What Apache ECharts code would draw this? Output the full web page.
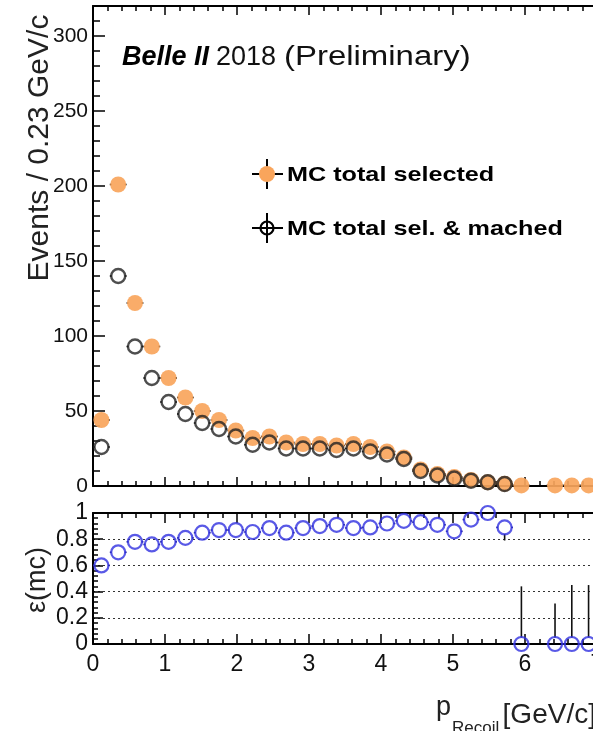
<!DOCTYPE html>
<html><head><meta charset="utf-8">
<script src="https://cdn.jsdelivr.net/npm/echarts@6/dist/echarts.min.js"></script>
<style>html,body{margin:0;padding:0;background:#fff}#c{width:593px;height:731px}</style>
</head><body><div id="c"></div>
<script>
// ---- data ----
const binCenters = [0.117,0.350,0.583,0.817,1.050,1.283,1.517,1.750,1.983,2.217,2.450,2.683,2.917,3.150,3.383,3.617,3.850,4.083,4.317,4.550,4.783,5.017,5.250,5.483,5.717,5.950,6.183,6.417,6.650,6.883];
const binHalfWidth = 0.1167;
const selected = [44,201,122,93,72,59,50,44,37,32,33,29,28,28,27,28,26,23,19,11,8,6,4,2.5,1.5,0.4,null,0.4,0.4,0.4];
const matched  = [26,140,93,72,56,48,42,38,33,27.5,29,25,25,25,24,25,23,21,18,10,7,5,3.5,2.5,1.3,null,null,null,null,null];
const efficiency = [0.60,0.70,0.78,0.76,0.78,0.81,0.85,0.87,0.87,0.855,0.885,0.85,0.885,0.90,0.91,0.885,0.89,0.92,0.94,0.93,0.91,0.86,0.95,1.0,0.89,0,null,0,0,0];
const effErrUp   = [0.03,0.03,0.03,0.03,0.03,0.03,0.03,0.03,0.03,0.03,0.03,0.03,0.03,0.03,0.03,0.03,0.03,0.03,0.03,0.03,0.03,0.03,0.03,0.01,0.05,0.44,null,0.31,0.45,0.45];
const effErrDown = [0.03,0.03,0.03,0.03,0.03,0.03,0.03,0.03,0.03,0.03,0.03,0.03,0.03,0.03,0.03,0.03,0.03,0.03,0.03,0.03,0.03,0.03,0.03,0.03,0.10,0,null,0,0,0];
const xTickLabels = ['0','1','2','3','4','5','6','7'];

const FONT = "'Liberation Sans', Arial, Helvetica, sans-serif";
const ORANGE = '#f9a55c';
const BLUE = '#2f2fe0';

function pts(vals){ return binCenters.map((c,i)=> vals[i]==null ? null : [c, vals[i]]).filter(p=>p); }
function hbars(vals){ return binCenters.map((c,i)=> vals[i]==null ? null : [c, vals[i], binHalfWidth]).filter(p=>p); }
function vbars(){ return binCenters.map((c,i)=> efficiency[i]==null ? null : [c, efficiency[i], effErrDown[i], effErrUp[i]]).filter(p=>p); }

function hbarRender(r, color, lw){
  return function(params, api){
    const c = api.value(0), v = api.value(1), w = api.value(2);
    const pl = api.coord([c - w, v]), pr = api.coord([c + w, v]), pc = api.coord([c, v]);
    const children = [];
    if (pc[0] - pl[0] > r) children.push({type:'line', shape:{x1:pl[0],y1:pc[1],x2:pc[0]-r,y2:pc[1]}, style:{stroke:color,lineWidth:lw}});
    if (pr[0] - pc[0] > r) children.push({type:'line', shape:{x1:pc[0]+r,y1:pc[1],x2:pr[0],y2:pc[1]}, style:{stroke:color,lineWidth:lw}});
    return {type:'group', children};
  };
}
function vbarRender(r){
  return function(params, api){
    const c = api.value(0), v = api.value(1), dn = api.value(2), up = api.value(3);
    const pc = api.coord([c, v]), pt = api.coord([c, v + up]), pb = api.coord([c, Math.max(0, v - dn)]);
    const children = [];
    if (pc[1] - pt[1] > r) children.push({type:'line', shape:{x1:pc[0],y1:pt[1],x2:pc[0],y2:pc[1]-r}, style:{stroke:'#111',lineWidth:1.6}});
    if (pb[1] - pc[1] > r) children.push({type:'line', shape:{x1:pc[0],y1:pc[1]+r,x2:pc[0],y2:pb[1]}, style:{stroke:'#111',lineWidth:1.6}});
    return {type:'group', children};
  };
}

const axisLineStyle = {show:true, onZero:false, lineStyle:{color:'#000', width:2}};
function xAxisDef(gridIndex, position, showLabels, major, minor){
  return {
    type:'value', gridIndex, position, min:0, max:7, interval:1,
    axisLine: axisLineStyle,
    axisTick:{show:true, inside:true, length:major, lineStyle:{color:'#000', width:1.5}},
    minorTick:{show:true, splitNumber:5, length:minor, lineStyle:{color:'#000', width:1.5}},
    splitLine:{show:false},
    axisLabel:{show:showLabels, color:'#111', fontFamily:FONT, fontSize:23, margin:9,
      formatter: v => xTickLabels[Math.round(v)] }
  };
}

const option = {
  animation:false,
  backgroundColor:'#fff',
  grid:[
    {left:93, top:6, width:504, height:480, containLabel:false, outerBoundsMode:'none'},
    {left:93, top:513, width:504, height:131, containLabel:false, outerBoundsMode:'none'}
  ],
  xAxis:[
    xAxisDef(0,'bottom',false,9,5),
    xAxisDef(0,'top',false,9,5),
    xAxisDef(1,'bottom',true,10,5),
    xAxisDef(1,'top',false,10,5)
  ],
  yAxis:[
    { type:'value', gridIndex:0, position:'left', min:0, max:320, interval:50,
      axisLine: axisLineStyle,
      axisTick:{show:true, inside:true, length:12, lineStyle:{color:'#000', width:1.5}},
      minorTick:{show:true, splitNumber:5, length:7, lineStyle:{color:'#000', width:1.5}},
      splitLine:{show:false},
      axisLabel:{color:'#111', fontFamily:FONT, fontSize:21, margin:5, formatter: v => (v % 50 === 0 ? String(v) : '')}
    },
    { type:'value', gridIndex:1, position:'left', min:0, max:1, interval:0.2,
      axisLine: axisLineStyle,
      axisTick:{show:true, inside:true, length:10, lineStyle:{color:'#000', width:1.5}},
      minorTick:{show:true, splitNumber:5, length:5, lineStyle:{color:'#000', width:1.5}},
      splitLine:{show:true, lineStyle:{color:'#333', width:1.2, type:[2,3]}},
      axisLabel:{color:'#111', fontFamily:FONT, fontSize:23, margin:5,
        formatter: v => { if (Math.abs(v) < 1e-9) return '0'; if (Math.abs(v-1) < 1e-9) return '1'; return v.toFixed(1); } }
    }
  ],
  series:[
    { type:'custom', xAxisIndex:0, yAxisIndex:0, data:hbars(selected), renderItem:hbarRender(6.5,'#111',1.6), z:1, clip:false },
    { type:'custom', xAxisIndex:0, yAxisIndex:0, data:hbars(matched), renderItem:hbarRender(6.5,'#111',1.6), z:1, clip:false },
    { type:'scatter', xAxisIndex:0, yAxisIndex:0, data:pts(selected), symbol:'circle', symbolSize:16,
      itemStyle:{color:ORANGE, opacity:0.92}, z:2, clip:false },
    { type:'scatter', xAxisIndex:0, yAxisIndex:0, data:pts(matched), symbol:'circle', symbolSize:14,
      itemStyle:{color:'rgba(0,0,0,0)', borderColor:'#222', borderWidth:2.4}, z:3, clip:false },
    { type:'custom', xAxisIndex:2, yAxisIndex:1, data:hbars(efficiency), renderItem:hbarRender(6.5,'#2a2a90',1.6), z:1, clip:false },
    { type:'custom', xAxisIndex:2, yAxisIndex:1, data:vbars(), renderItem:vbarRender(6.5), z:1, clip:false },
    { type:'scatter', xAxisIndex:2, yAxisIndex:1, data:pts(efficiency), symbol:'circle', symbolSize:14,
      itemStyle:{color:'rgba(0,0,0,0)', borderColor:BLUE, borderWidth:2.2}, z:3, clip:false }
  ],
  graphic:[
    { type:'text', x:122, y:58, z:10,
      style:{ text:'Belle II', fontFamily:FONT, fontSize:27, fontWeight:'bold', fontStyle:'italic', fill:'#000', verticalAlign:'middle' } },
    { type:'text', x:216, y:58, z:10,
      style:{ text:'2018', fontFamily:FONT, fontSize:27, fill:'#111', verticalAlign:'middle' } },
    { type:'text', x:284, y:58, scaleX:1.22, z:10,
      style:{ text:'(Preliminary)', fontFamily:FONT, fontSize:27, fill:'#111', verticalAlign:'middle' } },
    // legend entry 1
    { type:'line', shape:{x1:252,y1:174,x2:283,y2:174}, style:{stroke:'#000', lineWidth:2}, z:10 },
    { type:'line', shape:{x1:267,y1:159,x2:267,y2:189}, style:{stroke:'#000', lineWidth:2}, z:10 },
    { type:'circle', shape:{cx:267, cy:174, r:8}, style:{fill:ORANGE}, z:11 },
    { type:'text', x:287, y:175, scaleX:1.2, z:10, style:{ text:'MC total selected', fontFamily:FONT, fontSize:21, fontWeight:'bold', fill:'#000', verticalAlign:'middle' } },
    // legend entry 2
    { type:'line', shape:{x1:252,y1:228,x2:283,y2:228}, style:{stroke:'#000', lineWidth:2}, z:10 },
    { type:'line', shape:{x1:267,y1:213,x2:267,y2:243}, style:{stroke:'#000', lineWidth:2}, z:10 },
    { type:'circle', shape:{cx:267, cy:228, r:6.5}, style:{fill:'none', stroke:'#000', lineWidth:2.2}, z:11 },
    { type:'text', x:287, y:229, scaleX:1.2, z:10, style:{ text:'MC total sel. & mached', fontFamily:FONT, fontSize:21, fontWeight:'bold', fill:'#000', verticalAlign:'middle' } },
    // y axis title (top)
    { type:'text', x:40, y:148, rotation:Math.PI/2, z:10,
      style:{ text:'Events / 0.23 GeV/c', fontFamily:FONT, fontSize:30, fill:'#222', align:'center', verticalAlign:'middle' } },
    // y axis title (bottom)
    { type:'text', x:38, y:580, rotation:Math.PI/2, z:10,
      style:{ text:'ε(mc)', fontFamily:FONT, fontSize:27, fill:'#222', align:'center', verticalAlign:'middle' } },
    // x axis title
    { type:'text', left:436, top:694, z:10,
      style:{ text:'{p|p}{s|Recoil} {u|[GeV/c]}', fontFamily:FONT,
        rich:{ p:{fontSize:27, fontFamily:FONT, fill:'#222', verticalAlign:'top'},
               s:{fontSize:17, fontFamily:FONT, fill:'#222', padding:[26,0,0,1]},
               u:{fontSize:28, fontFamily:FONT, fill:'#222'} } } }
  ]
};
const chart = echarts.init(document.getElementById('c'), null, {renderer:'canvas'});
chart.setOption(option);
</script>
</body></html>
